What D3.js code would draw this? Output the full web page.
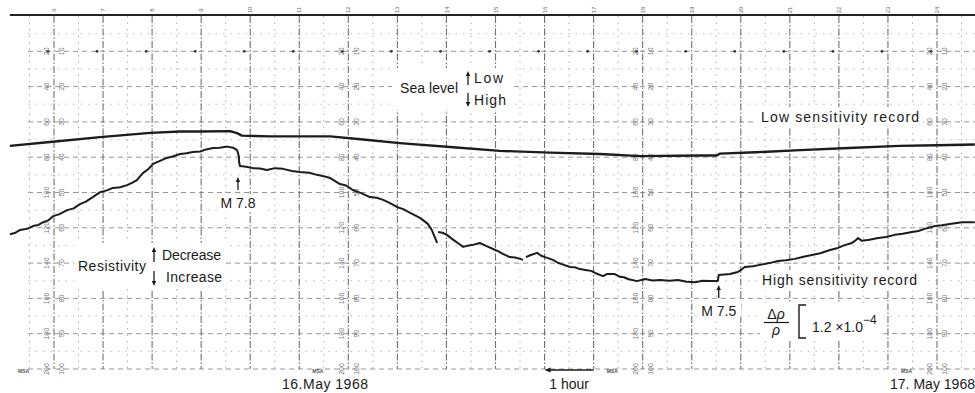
<!DOCTYPE html>
<html>
<head>
<meta charset="utf-8">
<script src="https://cdn.jsdelivr.net/npm/d3@7"></script>
<style>
  body { margin: 0; background: #fff; }
  svg { display: block; font-family: 'Liberation Sans', Arial, sans-serif; }
</style>
</head>
<body>
<script>
var W = 975, H = 393;

// chart paper: one major division per hour, 0..100 across the strip
var hourTicks = d3.range(6, 25);
var halfHourTicks = d3.range(5.5, 25, 1);
var majorRows = d3.range(10, 101, 10);
var minorRows = d3.range(5, 100, 10);
var outerScaleLabels = ['20', '40', '60', '80', '100', '120', '140', '160', '180', '200'];
var innerScaleLabels = ['10', '20', '30', '40', '50', '60', '70', '80', '90', '100'];
var scaleColumnHours = [6, 12, 18, 24];
var stampHours = [6, 12, 18, 24];

// sea level, low sensitivity pen  [hour, division]
var lowRecord = [
  [5.10, 36.8], [5.92, 35.7], [6.94, 34.3], [7.96, 33.1], [8.57, 32.7], [8.98, 32.7],
  [9.59, 32.6], [9.73, 33.2], [9.83, 33.9], [10.40, 34.1], [11.01, 34.1], [11.63, 34.1],
  [12.30, 35.0], [13.05, 36.0], [14.07, 37.1], [15.09, 38.2], [16.11, 38.7], [17.13, 39.1],
  [17.94, 39.7], [19.17, 39.5], [19.51, 39.5], [19.57, 39.0], [20.30, 38.6], [21.21, 38.0],
  [22.20, 37.4], [23.24, 36.8], [24.00, 36.6], [24.77, 36.4]
];

// resistivity, high sensitivity pen (three pieces, the pen skips twice)
var highRecordA = [
  [5.10, 61.8], [5.20, 61.5], [5.31, 60.6], [5.45, 60.3], [5.57, 59.5], [5.68, 59.2],
  [5.78, 58.4], [5.88, 57.9], [5.98, 56.7], [6.10, 56.2], [6.27, 55.0], [6.40, 54.5],
  [6.53, 53.3], [6.65, 52.6], [6.79, 51.3], [6.94, 49.9], [7.08, 49.4], [7.20, 48.7],
  [7.35, 48.5], [7.49, 47.9], [7.60, 47.2], [7.69, 46.5], [7.81, 44.5], [7.92, 43.4],
  [8.02, 41.9], [8.15, 41.1], [8.30, 40.2], [8.42, 39.8], [8.57, 39.1], [8.70, 38.9],
  [8.83, 38.5], [8.98, 38.4], [9.10, 37.8], [9.24, 37.4], [9.38, 37.3], [9.53, 37.0],
  [9.65, 37.3], [9.73, 38.0], [9.75, 38.8], [9.77, 39.9],
  [9.77, 41.1], [9.79, 42.5], [9.92, 42.7], [10.06, 43.1], [10.20, 43.2], [10.34, 43.6],
  [10.50, 43.1], [10.67, 43.3], [10.85, 43.9], [11.01, 44.2], [11.20, 44.4], [11.36, 45.0],
  [11.50, 45.4], [11.63, 45.9], [11.83, 47.6], [11.95, 48.0], [12.09, 49.3], [12.25, 50.1],
  [12.44, 51.3], [12.58, 51.5], [12.71, 52.1], [12.85, 53.0], [12.99, 54.1], [13.12, 54.7],
  [13.26, 55.8], [13.46, 57.2], [13.62, 58.9], [13.70, 60.6], [13.77, 62.9], [13.81, 64.3]
];
var highRecordB = [
  [13.83, 61.2], [13.92, 61.4], [14.01, 62.0], [14.10, 63.0], [14.17, 63.7], [14.26, 64.6],
  [14.34, 65.4], [14.45, 65.0], [14.52, 64.9], [14.68, 64.3], [14.82, 65.2], [14.95, 66.0],
  [15.05, 66.6], [15.15, 67.4], [15.29, 68.3], [15.40, 68.4], [15.50, 68.8], [15.56, 69.1]
];
var highRecordC = [
  [15.62, 68.3], [15.72, 67.7], [15.85, 67.1], [15.93, 67.9], [16.01, 68.3], [16.17, 69.1],
  [16.27, 69.9], [16.35, 70.3], [16.52, 71.1], [16.62, 71.2], [16.72, 71.7], [16.86, 72.0],
  [16.95, 72.2], [17.03, 72.8], [17.19, 73.7], [17.27, 73.1], [17.43, 73.1], [17.54, 73.9],
  [17.62, 74.0], [17.70, 74.5], [17.88, 75.1], [18.05, 74.5], [18.20, 74.9], [18.35, 74.8],
  [18.55, 75.0], [18.72, 74.8], [18.90, 75.3], [19.07, 75.4], [19.22, 75.0], [19.37, 75.1],
  [19.53, 75.1], [19.55, 73.4], [19.78, 73.1], [19.94, 72.5], [20.00, 72.0], [20.08, 71.1],
  [20.25, 70.9], [20.39, 70.5], [20.58, 70.0], [20.76, 69.4], [20.92, 69.2], [21.10, 68.8],
  [21.28, 68.2], [21.45, 67.7], [21.62, 67.2], [21.82, 66.3], [21.98, 65.7], [22.12, 64.9],
  [22.25, 64.4], [22.33, 63.7], [22.39, 62.9], [22.47, 63.7], [22.62, 63.4], [22.80, 62.9],
  [22.96, 62.6], [23.14, 62.0], [23.30, 61.7], [23.49, 61.2], [23.62, 60.9], [23.75, 60.3],
  [23.96, 59.5], [24.10, 59.3], [24.26, 58.9], [24.51, 58.4], [24.77, 58.4]
];

var quakes = [
  { name: 'M 7.8', hour: 9.75 },
  { name: 'M 7.5', hour: 19.55 }
];

var x = d3.scaleLinear().domain([6, 24]).range([54, 937]);
var y = d3.scaleLinear().domain([0, 100]).range([16, 369]);

var svg = d3.select('body').append('svg')
  .attr('width', W)
  .attr('height', H);

svg.append('rect').attr('width', W).attr('height', H).attr('fill', '#fff');

// ---- grid
var grid = svg.append('g').attr('class', 'grid');

grid.selectAll('.hrow_minor')
  .data(minorRows)
  .enter().append('line')
  .attr('class', 'hrow_minor')
  .attr('x1', 28).attr('x2', W)
  .attr('y1', function (d) { return y(d); })
  .attr('y2', function (d) { return y(d); })
  .attr('stroke', '#bdbdbd')
  .attr('stroke-width', 1)
  .attr('stroke-dasharray', '1.5,6');

grid.selectAll('.hrow_major')
  .data(majorRows)
  .enter().append('line')
  .attr('class', 'hrow_major')
  .attr('x1', 28).attr('x2', W)
  .attr('y1', function (d) { return y(d); })
  .attr('y2', function (d) { return y(d); })
  .attr('stroke', '#969696')
  .attr('stroke-width', 1)
  .attr('stroke-dasharray', '5,4');

grid.selectAll('.vcol_minor')
  .data(halfHourTicks)
  .enter().append('line')
  .attr('class', 'vcol_minor')
  .attr('x1', function (d) { return x(d); })
  .attr('x2', function (d) { return x(d); })
  .attr('y1', y(0)).attr('y2', y(100))
  .attr('stroke', '#adadad')
  .attr('stroke-width', 1)
  .attr('stroke-dasharray', '1.5,5');

grid.selectAll('.vcol_major')
  .data(hourTicks)
  .enter().append('line')
  .attr('class', 'vcol_major')
  .attr('x1', function (d) { return x(d); })
  .attr('x2', function (d) { return x(d); })
  .attr('y1', y(0)).attr('y2', y(100))
  .attr('stroke', '#707070')
  .attr('stroke-width', 1.1)
  .attr('stroke-dasharray', '7,2,1.5,2');

// minute marks on the first row
grid.selectAll('.mark')
  .data(hourTicks)
  .enter().append('circle')
  .attr('class', 'mark')
  .attr('cx', function (d) { return x(d) - 6; })
  .attr('cy', y(10))
  .attr('r', 1.4)
  .attr('fill', '#333');

// printed scale numbers, every six hours
scaleColumnHours.forEach(function (h) {
  var col = grid.append('g');
  col.selectAll('.outer')
    .data(outerScaleLabels)
    .enter().append('text')
    .attr('transform', function (d, i) {
      return 'translate(' + (x(h) - 7) + ',' + y(majorRows[i]) + ') rotate(-90)';
    })
    .attr('text-anchor', 'middle')
    .attr('dy', '0.35em')
    .attr('font-size', 7)
    .attr('fill', '#777')
    .text(function (d) { return d; });
  col.selectAll('.inner')
    .data(innerScaleLabels)
    .enter().append('text')
    .attr('transform', function (d, i) {
      return 'translate(' + (x(h) + 8) + ',' + y(majorRows[i]) + ') rotate(-90)';
    })
    .attr('text-anchor', 'middle')
    .attr('dy', '0.35em')
    .attr('font-size', 7)
    .attr('fill', '#777')
    .text(function (d) { return d; });
});

// hour numbers above the top edge
grid.selectAll('.hourNum')
  .data(hourTicks)
  .enter().append('text')
  .attr('class', 'hourNum')
  .attr('transform', function (d) { return 'translate(' + x(d) + ',10) rotate(-90)'; })
  .attr('text-anchor', 'middle')
  .attr('dy', '0.35em')
  .attr('font-size', 6)
  .attr('fill', '#666')
  .text(function (d) { return d; });

// small stamps at the bottom edge
grid.selectAll('.stamp')
  .data(stampHours)
  .enter().append('text')
  .attr('class', 'stamp')
  .attr('x', function (d) { return x(d) - 36; })
  .attr('y', y(100) + 4)
  .attr('font-size', 5)
  .attr('font-weight', 'bold')
  .attr('fill', '#555')
  .text('MSA');

// top edge of the strip
svg.append('line')
  .attr('x1', x(5.1)).attr('x2', W)
  .attr('y1', y(0) - 1).attr('y2', y(0) - 1)
  .attr('stroke', '#222')
  .attr('stroke-width', 2.2);

// ---- white label patches
var patches = [
  [392, 68, 122, 42],
  [755, 107, 168, 20],
  [220, 194, 42, 18],
  [74, 243, 152, 46],
  [757, 270, 166, 20],
  [697, 300, 44, 17],
  [760, 303, 122, 38]
];
svg.append('g').selectAll('rect')
  .data(patches)
  .enter().append('rect')
  .attr('x', function (d) { return d[0]; })
  .attr('y', function (d) { return d[1]; })
  .attr('width', function (d) { return d[2]; })
  .attr('height', function (d) { return d[3]; })
  .attr('fill', '#fff');

// ---- records
var line = d3.line()
  .x(function (d) { return x(d[0]); })
  .y(function (d) { return y(d[1]); });

svg.append('path')
  .datum(lowRecord)
  .attr('d', line)
  .attr('fill', 'none')
  .attr('stroke', '#1c1c1c')
  .attr('stroke-width', 2.4)
  .attr('stroke-linejoin', 'round');

[highRecordA, highRecordB, highRecordC].forEach(function (seg) {
  svg.append('path')
    .datum(seg)
    .attr('d', line)
    .attr('fill', 'none')
    .attr('stroke', '#1c1c1c')
    .attr('stroke-width', 2)
    .attr('stroke-linejoin', 'round');
});

// ---- annotations
var ann = svg.append('g').attr('fill', '#1a1a1a').attr('font-size', 14);

function arrow(g, ax, yTail, yTip) {
  var dir = yTip < yTail ? 1 : -1;
  g.append('line')
    .attr('x1', ax).attr('x2', ax)
    .attr('y1', yTail).attr('y2', yTip + dir * 3)
    .attr('stroke', '#1a1a1a')
    .attr('stroke-width', 1.3);
  g.append('path')
    .attr('d', 'M' + ax + ',' + yTip + 'L' + (ax - 2.2) + ',' + (yTip + dir * 5) +
      'L' + (ax + 2.2) + ',' + (yTip + dir * 5) + 'Z')
    .attr('fill', '#1a1a1a');
}

function label(tx, ty, str, len) {
  var t = ann.append('text').attr('x', tx).attr('y', ty).text(str);
  if (len) t.attr('textLength', len).attr('lengthAdjust', 'spacing');
  return t;
}

label(400, 93, 'Sea level', 58);
arrow(ann, 468, 85, 71);
arrow(ann, 468, 93, 107);
label(474, 83, 'Low', 29);
label(474, 105, 'High', 32);

label(761, 122, 'Low sensitivity record', 158);
label(762, 285, 'High sensitivity record', 155);

label(78, 271, 'Resistivity', 68);
arrow(ann, 154, 262, 247);
arrow(ann, 154, 271, 286);
label(162, 260, 'Decrease', 59);
label(166, 282, 'Increase', 56);

// earthquake marks
quakes.forEach(function (q, i) {
  var qx = x(q.hour);
  var tip = i === 0 ? 177 : 285;
  arrow(ann, qx, tip + 13, tip);
  ann.append('text')
    .attr('x', qx)
    .attr('y', tip + 31)
    .attr('text-anchor', 'middle')
    .text(q.name);
});

// d rho / rho bracket
ann.append('text').attr('x', 776).attr('y', 319).attr('text-anchor', 'middle')
  .attr('font-size', 14)
  .html('Δ<tspan font-style="italic">ρ</tspan>');
ann.append('line').attr('x1', 764).attr('x2', 789).attr('y1', 322.5).attr('y2', 322.5)
  .attr('stroke', '#1a1a1a').attr('stroke-width', 1.2);
ann.append('text').attr('x', 776).attr('y', 335).attr('text-anchor', 'middle')
  .attr('font-size', 14).attr('font-style', 'italic').text('ρ');
ann.append('path').attr('d', 'M806,305L799,305L799,338L806,338')
  .attr('fill', 'none').attr('stroke', '#1a1a1a').attr('stroke-width', 1.4);
ann.append('text').attr('x', 812).attr('y', 332).attr('font-size', 14)
  .html('1.2 ×1.0<tspan dy="-8" font-size="12">−4</tspan>');

// time axis text
label(282, 389, '16.May 1968', 86);
label(890, 389, '17. May 1968', 85);
ann.append('text').attr('x', x(16.5)).attr('y', 389).attr('text-anchor', 'middle').text('1 hour');
ann.append('line')
  .attr('x1', x(17)).attr('x2', x(16) + 4)
  .attr('y1', y(100) + 1).attr('y2', y(100) + 1)
  .attr('stroke', '#1a1a1a').attr('stroke-width', 1.6);
ann.append('path')
  .attr('d', 'M' + x(16) + ',' + (y(100) + 1) + 'l6,-2.5l0,5Z')
  .attr('fill', '#1a1a1a');
</script>
</body>
</html>
